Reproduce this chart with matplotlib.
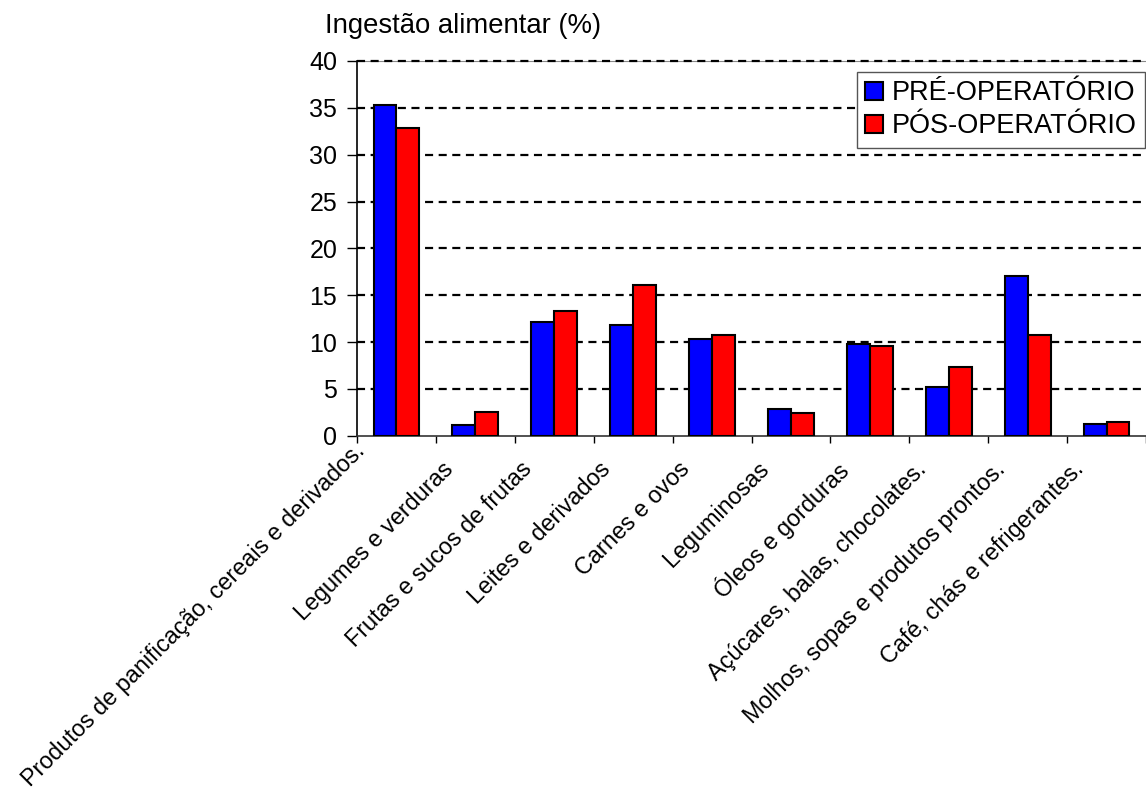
import matplotlib
matplotlib.use("Agg")
import matplotlib.pyplot as plt
import matplotlib.transforms as mtransforms
import numpy as np

categories = [
    "Produtos de panificação, cereais e derivados.",
    "Legumes e verduras",
    "Frutas e sucos de frutas",
    "Leites e derivados",
    "Carnes e ovos",
    "Leguminosas",
    "Óleos e gorduras",
    "Açúcares, balas, chocolates.",
    "Molhos, sopas e produtos prontos.",
    "Café, chás e refrigerantes.",
]
pre_operatorio = [35.3, 1.1, 12.1, 11.8, 10.3, 2.9, 9.8, 5.2, 17.1, 1.3]
pos_operatorio = [32.8, 2.5, 13.3, 16.1, 10.7, 2.4, 9.6, 7.3, 10.7, 1.5]
series_names = ["PRÉ-OPERATÓRIO", "PÓS-OPERATÓRIO"]
yticks = [0, 5, 10, 15, 20, 25, 30, 35, 40]
ylabel_text = "Ingestão alimentar (%)"

plt.rcParams['font.family'] = ['Liberation Sans', 'DejaVu Sans']
plt.rcParams['lines.scale_dashes'] = False

W, H = 1146, 794
fig = plt.figure(figsize=(W / 100, H / 100), dpi=100)
left, right, top, bottom = 357, 1146, 61, 435.7
ax = fig.add_axes([left / W, 1 - bottom / H, (right - left) / W, (bottom - top) / H])

x = np.arange(len(categories))
w = 0.29
ax.bar(x - w / 2, pre_operatorio, width=w, color='#0000FF', edgecolor='black',
       linewidth=1.5, zorder=3, label=series_names[0])
ax.bar(x + w / 2, pos_operatorio, width=w, color='#FF0000', edgecolor='black',
       linewidth=1.5, zorder=3, label=series_names[1])

cat_px = 79.5
ax.set_xlim(-0.5, -0.5 + (right - left) / cat_px)
ax.set_ylim(0, 40)

# dashed gridlines
for yv in yticks[1:]:
    ax.axhline(yv, color='black', lw=1.6, dashes=(5.8, 4.0), zorder=2.6, clip_on=False)

ax.set_yticks(yticks)
ax.set_yticklabels([str(v) for v in yticks], fontsize=18)
ax.tick_params(axis='y', direction='out', length=7.2, width=1.0, pad=7, colors='black')

ax.set_xticks(np.arange(-0.5, len(categories) - 0.5 + 1, 1.0), minor=True)
ax.set_xticks(x)
ax.set_xticklabels([])
ax.tick_params(axis='x', which='major', length=0)
ax.tick_params(axis='x', which='minor', direction='out', length=5, width=1.0, colors='black')

ax.spines['right'].set_visible(False)
ax.spines['top'].set_color('#888888')
ax.spines['top'].set_linewidth(0.8)
ax.spines['left'].set_linewidth(1.2)
ax.spines['bottom'].set_linewidth(1.2)
ax.spines['left'].set_color('black')
ax.spines['bottom'].set_color('#333333')

renderer = fig.canvas.get_renderer()
for i, (xi, lab) in enumerate(zip(x, categories)):
    dx, dy = -34, -22
    if i == 0:
        dx, dy = -43, -19
    offset = mtransforms.ScaledTranslation(dx / 100, dy / 100, fig.dpi_scale_trans)
    t = ax.text(xi, 0, lab, rotation=45, ha='right', va='top', rotation_mode='anchor',
                fontsize=16.8, transform=ax.get_xaxis_transform() + offset)
    bb = t.get_window_extent(renderer)
    # keep the label inside the figure (as the original chart does)
    shift_y = max(0.0, 3 - bb.y0)
    shift_x = max(0.0, 3 - bb.x0)
    if shift_x or shift_y:
        offset = mtransforms.ScaledTranslation((dx + shift_x) / 100, (dy + shift_y) / 100,
                                               fig.dpi_scale_trans)
        t.set_transform(ax.get_xaxis_transform() + offset)

fig.text(463 / W, 1 - 33 / H, ylabel_text, ha='center', va='baseline', fontsize=19.8)

leg = ax.legend(loc='upper right', bbox_to_anchor=(1145 / W, 1 - 72 / H),
                bbox_transform=fig.transFigure, fontsize=19.5, frameon=True,
                fancybox=False, edgecolor='#555555', framealpha=1,
                handlelength=0.65, handleheight=0.65, handletextpad=0.35,
                labelspacing=0.27, borderpad=0.3, borderaxespad=0)
leg.get_frame().set_linewidth(1.0)
leg.set_zorder(5)

fig.savefig("out.png", dpi=100)
